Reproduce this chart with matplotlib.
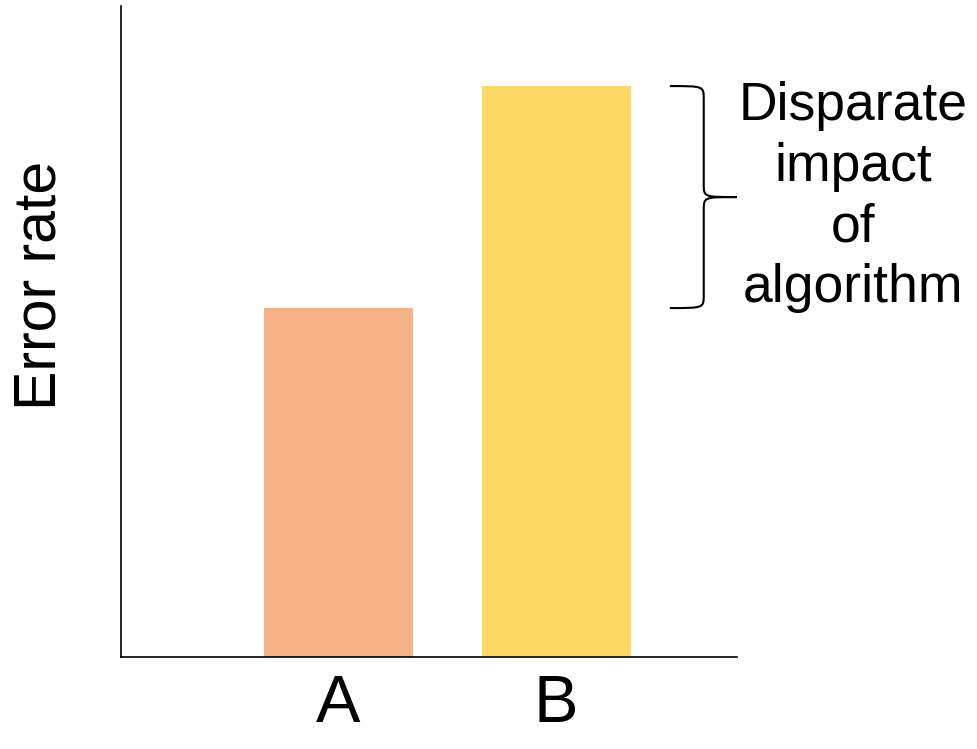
import matplotlib
matplotlib.use('Agg')
import matplotlib.pyplot as plt
from matplotlib.path import Path
from matplotlib.patches import PathPatch
import matplotlib.transforms as mtransforms

# data
groups = ['A', 'B']
error_rate = [0.536, 0.877]
colors = ['#F4B286', '#FDD866']
ylabel = 'Error rate'
note = 'Disparate\nimpact\nof\nalgorithm'

plt.rcParams['font.family'] = ['Liberation Sans', 'DejaVu Sans']

fig = plt.figure(figsize=(9.77, 7.49), dpi=100)
ax = fig.add_axes([121 / 977, 92 / 749, 616 / 977, 651 / 749])

x = list(range(len(groups)))
ax.bar(x, error_rate, width=0.685, color=colors)
ax.set_xlim(-1, 1.832)
ax.set_ylim(0, 1)

ax.spines['top'].set_visible(False)
ax.spines['right'].set_visible(False)
for s in ['left', 'bottom']:
    ax.spines[s].set_linewidth(1.2)
    ax.spines[s].set_color('black')

ax.set_xticks(x)
ax.set_xticklabels(groups, fontsize=48)
ax.tick_params(axis='x', length=0, pad=12.5)
ax.set_yticks([])

fig.text(40 / 977, 1 - 285 / 749, ylabel, fontsize=42.5, rotation=90,
         ha='center', va='center')

# curly brace between the two bar heights
trans = mtransforms.blended_transform_factory(ax.transAxes, ax.transData)
lo, hi = error_rate
mid = (lo + hi) / 2
xl, xv, xt = 0.891, 0.946, 1.0
c = 0.02
verts = [
    (xl, hi), (xv, hi), (xv, hi), (xv, hi - c),
    (xv, mid + c),
    (xv, mid), (xv, mid), (xt, mid),
    (xv, mid), (xv, mid), (xv, mid - c),
    (xv, lo + c),
    (xv, lo), (xv, lo), (xl, lo),
]
codes = [Path.MOVETO, Path.CURVE4, Path.CURVE4, Path.CURVE4,
         Path.LINETO,
         Path.CURVE4, Path.CURVE4, Path.CURVE4,
         Path.CURVE4, Path.CURVE4, Path.CURVE4,
         Path.LINETO,
         Path.CURVE4, Path.CURVE4, Path.CURVE4]
brace = PathPatch(Path(verts, codes), facecolor='none', edgecolor='black',
                  lw=1.5, transform=trans, clip_on=False)
ax.add_patch(brace)

fig.text(853 / 977, 1 - 197 / 749, note, fontsize=38.5, ha='center',
         va='center', linespacing=1.27)

fig.savefig('out.png', dpi=100)
